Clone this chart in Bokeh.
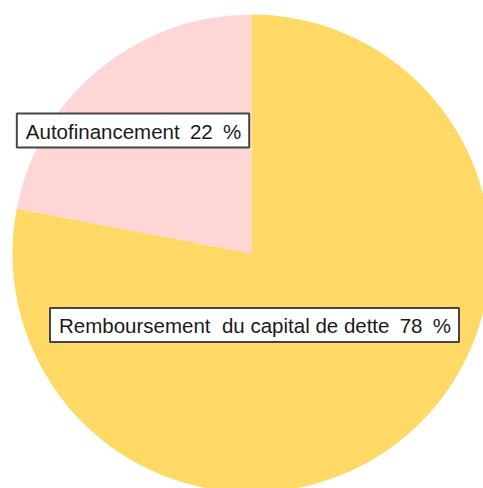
import math
from bokeh.plotting import figure
from bokeh.models import Range1d, Label, ColumnDataSource
from bokeh.embed import file_html
from bokeh.resources import INLINE

categories = ["Autofinancement", "Remboursement\u00a0\u00a0du capital de dette"]
shares = [22, 78]
colors = ["#FFD6D6", "#FFD966"]

W, H = 483, 488
p = figure(width=W, height=H, output_backend="svg", toolbar_location=None,
           x_range=Range1d(0, W), y_range=Range1d(0, H),
           min_border=0, match_aspect=False)
p.axis.visible = False
p.grid.visible = False
p.outline_line_color = None
p.background_fill_color = "white"
p.border_fill_color = "white"

cx, cy, r = 251, 235, 239
total = sum(shares)
starts, ends = [], []
a = math.pi / 2
for s in shares:
    starts.append(a)
    a += 2 * math.pi * s / total
    ends.append(a)

src = ColumnDataSource(dict(start=starts, end=ends, color=colors, cat=categories))
p.wedge(x=cx, y=cy, radius=r, start_angle="start", end_angle="end",
        fill_color="color", line_color=None, source=src)

label_pos = [(132.5, 358), (254, 163.5)]
for cat, s, (lx, ly) in zip(categories, shares, label_pos):
    p.add_layout(Label(x=lx, y=ly, text=f"{cat}\u2002{s}\u2002%", text_align="center",
                       text_baseline="middle", text_font="Liberation Sans",
                       text_font_size="20.5px", text_color="#1a1a1a",
                       background_fill_color="white", border_line_color="#454545",
                       border_line_width=2,
                       padding=dict(left=9, right=8, top=6, bottom=5)))

open("out.html", "w").write(file_html(p, INLINE))
